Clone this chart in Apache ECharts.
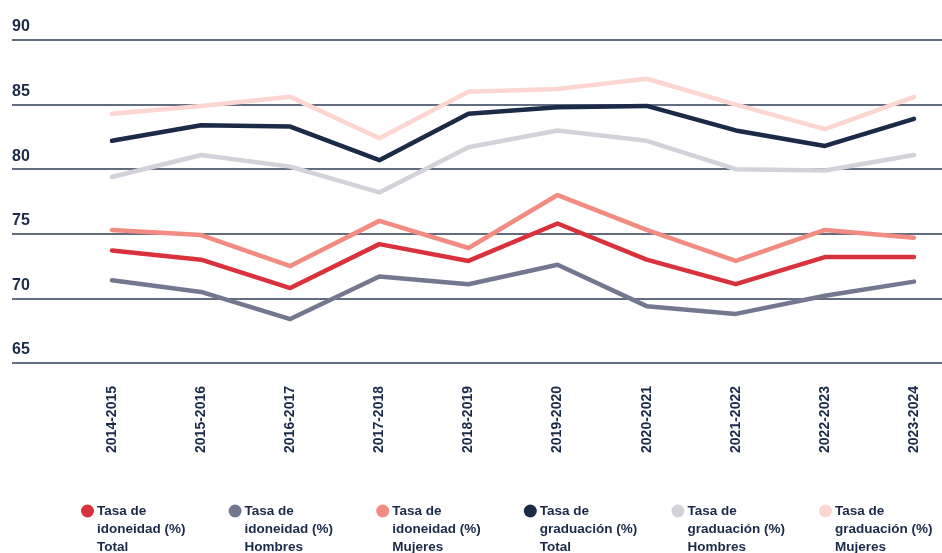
<!DOCTYPE html>
<html>
<head>
<meta charset="utf-8">
<script src="https://cdn.jsdelivr.net/npm/echarts@6/dist/echarts.min.js"></script>
<style>
  html, body { margin: 0; padding: 0; background: #fff; }
  #chartmain { width: 942px; height: 553px; }
</style>
</head>
<body>
<div id="chartmain"></div>
<script>
var cursos = ['2014-2015', '2015-2016', '2016-2017', '2017-2018', '2018-2019',
  '2019-2020', '2020-2021', '2021-2022', '2022-2023', '2023-2024'];

var idoneidadTotal = [73.7, 73.0, 70.8, 74.2, 72.9, 75.8, 73.0, 71.1, 73.2, 73.2];
var idoneidadHombres = [71.4, 70.5, 68.4, 71.7, 71.1, 72.6, 69.4, 68.8, 70.2, 71.3];
var idoneidadMujeres = [75.3, 74.9, 72.5, 76.0, 73.9, 78.0, 75.3, 72.9, 75.3, 74.7];
var graduacionTotal = [82.2, 83.4, 83.3, 80.7, 84.3, 84.8, 84.9, 83.0, 81.8, 83.9];
var graduacionHombres = [79.4, 81.1, 80.2, 78.2, 81.7, 83.0, 82.2, 80.0, 79.9, 81.1];
var graduacionMujeres = [84.3, 84.9, 85.6, 82.4, 86.0, 86.2, 87.0, 85.0, 83.1, 85.6];

var yTicks = [65, 70, 75, 80, 85, 90];

var nombres = [
  'Tasa de\nidoneidad (%)\nTotal',
  'Tasa de\nidoneidad (%)\nHombres',
  'Tasa de\nidoneidad (%)\nMujeres',
  'Tasa de\ngraduación (%)\nTotal',
  'Tasa de\ngraduación (%)\nHombres',
  'Tasa de\ngraduación (%)\nMujeres'
];
var colores = ['#d9323d', '#737890', '#f28b81', '#1b2a47', '#d3d2da', '#fed6d1'];
var datos = [idoneidadTotal, idoneidadHombres, idoneidadMujeres,
  graduacionTotal, graduacionHombres, graduacionMujeres];

var fuente = "'Liberation Sans Narrow', 'Arial Narrow', 'Liberation Sans', sans-serif";
var azul = '#1b2a47';

var series = [];
for (var i = 0; i < datos.length; i++) {
  series.push({
    name: nombres[i],
    type: 'line',
    xAxisIndex: 0,
    yAxisIndex: 0,
    data: datos[i],
    symbol: 'none',
    z: 10 - i,
    lineStyle: { color: colores[i], width: 4.5, cap: 'round', join: 'round' },
    itemStyle: { color: colores[i] }
  });
}

var option = {
  animation: false,
  grid: [
    { left: 112, right: 28, top: 40, bottom: 190 },
    { left: 12, right: 0, top: 40, bottom: 190 }
  ],
  xAxis: [
    {
      type: 'category',
      gridIndex: 0,
      data: cursos,
      boundaryGap: false,
      axisLine: { show: false },
      axisTick: { show: false },
      axisLabel: {
        rotate: 90,
        margin: 23,
        color: azul,
        fontFamily: fuente,
        fontWeight: 'bold',
        fontSize: 14
      }
    },
    { type: 'value', gridIndex: 1, show: false }
  ],
  yAxis: [
    { type: 'value', gridIndex: 0, min: 65, max: 90, interval: 5, show: false },
    {
      type: 'value',
      gridIndex: 1,
      min: yTicks[0],
      max: yTicks[yTicks.length - 1],
      interval: 5,
      axisLine: { show: false },
      axisTick: { show: false },
      splitLine: { lineStyle: { color: '#2f3c56', width: 1.5 } },
      axisLabel: {
        inside: true,
        margin: 0,
        align: 'left',
        verticalAlign: 'bottom',
        padding: [0, 0, 5, 0],
        color: azul,
        fontFamily: fuente,
        fontWeight: 'bold',
        fontSize: 16
      }
    }
  ],
  legend: {
    left: 81,
    top: 466,
    width: 861,
    padding: 0,
    itemGap: 33.6,
    itemWidth: 13,
    itemHeight: 13,
    icon: 'circle',
    data: nombres,
    // two blank lines on top so the dot lines up with the first line
    formatter: function (name) { return '\n\n' + name; },
    textStyle: {
      color: azul,
      fontFamily: fuente,
      fontWeight: 'bold',
      fontSize: 13.5,
      lineHeight: 18,
      width: 98,
      padding: [0, 0, 0, -2],
      overflow: 'none'
    }
  },
  series: series
};

var myChart = echarts.init(document.getElementById('chartmain'));
myChart.setOption(option);
</script>
</body>
</html>
